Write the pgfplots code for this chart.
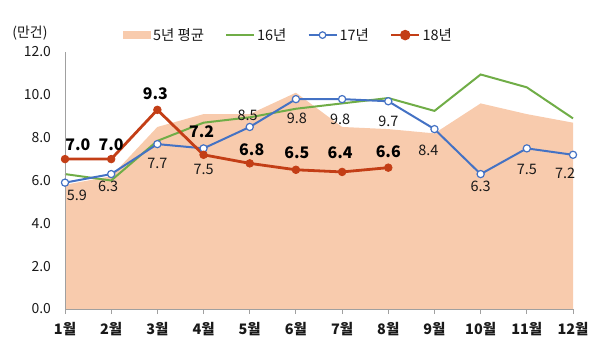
\documentclass[border=0pt]{standalone}
\usepackage{pgfplots}
\usepackage{pgfplotstable}
\pgfplotsset{compat=1.18}
\usepackage{fontspec}
\setmainfont{Noto Sans CJK KR}
\definecolor{areaC}{RGB}{248,203,173}
\definecolor{greenC}{RGB}{112,173,71}
\definecolor{blueC}{RGB}{68,114,196}
\definecolor{redC}{RGB}{195,62,22}
\definecolor{axisC}{RGB}{160,160,160}
\definecolor{txt}{RGB}{25,25,25}
\pgfplotsset{/pgf/number format/assume math mode=true}

% 5-year average
\pgfplotstableread{
x y
1 5.8
2 6.2
3 8.5
4 9.1
5 9.1
6 10.1
7 8.5
8 8.4
9 8.2
10 9.6
11 9.1
12 8.7
}\tabAvg
% 2016
\pgfplotstableread{
x y
1 6.3
2 6.0
3 7.85
4 8.7
5 8.95
6 9.35
7 9.6
8 9.85
9 9.25
10 10.95
11 10.35
12 8.9
}\tabA
% 2017 (with label offsets)
\pgfplotstableread{
x y dx dy
1 5.9 12 -13
2 6.3 -3 -12
3 7.7 0 -19
4 7.5 0 -21
5 8.5 -2 12
6 9.8 1 -19
7 9.8 -2 -20
8 9.7 0 -20
9 8.4 -6 -21
10 6.3 0 -12
11 7.5 0 -21
12 7.2 -8 -19
}\tabB
% 2018 (with label offsets)
\pgfplotstableread{
x y dx dy
1 7.0 13 14
2 7.0 0 14
3 9.3 -2 16
4 7.2 -2 23
5 6.8 2 14
6 6.5 1 17
7 6.4 -2 19
8 6.6 0 16
}\tabC

\begin{document}
\begin{tikzpicture}[x=1bp,y=1bp]
\path[use as bounding box] (-65,-47) rectangle (535,309);
\begin{axis}[
  at={(0,0)}, anchor=south west,
  scale only axis, width=508bp, height=257bp,
  xmin=1, xmax=12, ymin=0, ymax=12,
  clip=false, axis on top,
  axis lines=left,
  axis line style={-, draw=axisC, line width=0.9bp},
  xtick={1,...,12},
  xticklabels={1월,2월,3월,4월,5월,6월,7월,8월,9월,10월,11월,12월},
  xtick align=outside,
  major tick length=5bp,
  xtick style={draw=axisC, line width=0.9bp},
  ytick={0,2,...,12},
  ytick style={draw=none},
  yticklabel style={/pgf/number format/.cd, fixed, fixed zerofill, precision=1, /tikz/.cd,
    font=\fontsize{14}{16}\selectfont, text=txt, xshift=-8bp},
  xticklabel style={font=\bfseries\fontsize{14.5}{16}\selectfont, text=txt, yshift=-5bp},
  legend style={at={(0.44,1)}, anchor=south, yshift=6bp, draw=none, fill=none,
    legend columns=-1, font=\fontsize{14.5}{16}\selectfont, text=txt,
    /tikz/every odd column/.append style={column sep=0bp},
    /tikz/every even column/.append style={column sep=19bp}},
  legend cell align=left,
]
\addplot[fill=areaC, draw=none,
  legend image code/.code={\fill[areaC] (0bp,-4bp) rectangle (28bp,4bp);}]
  table[x=x,y=y] {\tabAvg} \closedcycle;
\addlegendentry{5년 평균}

\addplot[greenC, line width=2bp, no markers,
  legend image code/.code={\draw[greenC, line width=2bp] (0bp,0bp) -- (28bp,0bp);}]
  table[x=x,y=y] {\tabA};
\addlegendentry{16년}

\addplot[blueC, line width=2bp, mark=*, mark size=3.6bp,
  mark options={fill=white, draw=blueC, line width=1.2bp},
  legend image code/.code={\draw[blueC, line width=2bp] (0bp,0bp) -- (28bp,0bp);
     \draw[blueC, fill=white, line width=1.2bp] (14bp,0bp) circle (3.3bp);}]
  table[x=x,y=y] {\tabB};
\addlegendentry{17년}

\addplot[redC, line width=2.8bp, mark=*, mark size=3.8bp,
  mark options={fill=redC, draw=redC, line width=0.8bp},
  legend image code/.code={\draw[redC, line width=2.8bp] (0bp,0bp) -- (28bp,0bp);
     \fill[redC] (14bp,0bp) circle (3.8bp);}]
  table[x=x,y=y] {\tabC};
\addlegendentry{18년}

% labels 2017
\addplot[draw=none, no markers, forget plot, point meta=y,
  visualization depends on={\thisrow{dx} \as \dx},
  visualization depends on={\thisrow{dy} \as \dy},
  nodes near coords={\pgfmathprintnumber[fixed,fixed zerofill,precision=1]{\pgfplotspointmeta}},
  nodes near coords align={center},
  every node near coord/.append style={anchor=center, inner sep=0pt,
    xshift=\dx pt, yshift=\dy pt, font=\fontsize{14.5}{16}\selectfont, text=txt}]
  table[x=x,y=y] {\tabB};

% labels 2018
\addplot[draw=none, no markers, forget plot, point meta=y,
  visualization depends on={\thisrow{dx} \as \dx},
  visualization depends on={\thisrow{dy} \as \dy},
  nodes near coords={\pgfmathprintnumber[fixed,fixed zerofill,precision=1]{\pgfplotspointmeta}},
  nodes near coords align={center},
  every node near coord/.append style={anchor=center, inner sep=0pt,
    xshift=\dx pt, yshift=\dy pt, font=\bfseries\fontsize{16}{18}\selectfont, text=black}]
  table[x=x,y=y] {\tabC};
\end{axis}
\node[font=\fontsize{14}{16}\selectfont, text=txt] at (-35,276) {(만건)};
\end{tikzpicture}
\end{document}
